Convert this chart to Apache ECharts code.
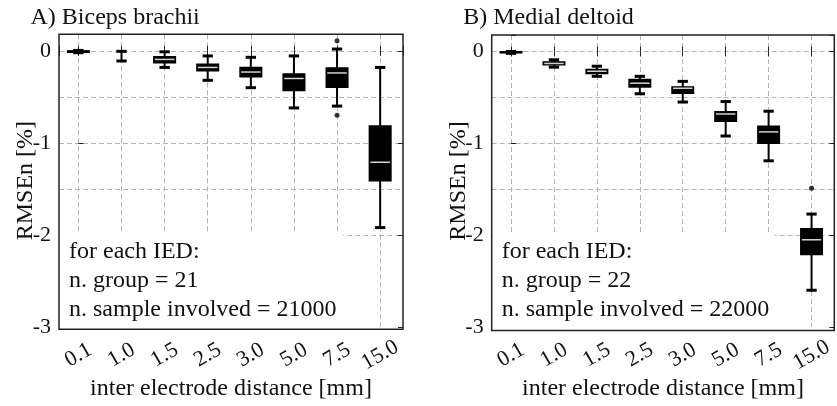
<!DOCTYPE html>
<html>
<head>
<meta charset="utf-8">
<script src="https://cdn.jsdelivr.net/npm/echarts@6/dist/echarts.min.js"></script>
<style>
html,body{margin:0;padding:0;background:#fff}
#c{width:837px;height:406px}
</style>
</head>
<body>
<div id="c"></div>
<script>
// IED categories (mm) on the x axis
const categories = ['0.1', '1.0', '1.5', '2.5', '3.0', '5.0', '7.5', '15.0'];
const panelTitles = ['A) Biceps brachii', 'B) Medial deltoid'];
const yAxisName = 'RMSEn [%]';
const xAxisName = 'inter electrode distance [mm]';

// box statistics per IED: [lower whisker, q1, median, q3, upper whisker]
const bicepsBoxes = [
  [-0.02, -0.015, -0.005, 0.0, 0.005],
  [-0.11, -0.06, -0.06, -0.06, -0.005],
  [-0.18, -0.13, -0.093, -0.063, -0.01],
  [-0.32, -0.215, -0.18, -0.145, -0.055],
  [-0.40, -0.28, -0.23, -0.18, -0.07],
  [-0.62, -0.43, -0.30, -0.25, -0.055],
  [-0.60, -0.395, -0.24, -0.185, 0.02],
  [-1.92, -1.41, -1.21, -0.815, -0.18]
];
const bicepsOutliers = [['7.5', 0.11], ['7.5', -0.70]];

const deltoidBoxes = [
  [-0.02, -0.014, -0.008, -0.002, 0.0],
  [-0.17, -0.145, -0.13, -0.113, -0.09],
  [-0.27, -0.24, -0.215, -0.195, -0.16],
  [-0.46, -0.385, -0.345, -0.305, -0.27],
  [-0.55, -0.455, -0.40, -0.385, -0.325],
  [-0.92, -0.76, -0.68, -0.655, -0.545],
  [-1.19, -1.0, -0.875, -0.815, -0.65],
  [-2.60, -2.21, -2.05, -1.93, -1.77]
];
const deltoidOutliers = [['15.0', -1.49]];

const groupCounts = [21, 22];
const sampleCounts = [21000, 22000];

const FONT = 'Liberation Serif';
const INK = '#111';
const DASH = '#b4b4b4';
const NONE = 'rgba(0,0,0,0)';

const grids = [
  {left: 59, top: 34.3, width: 344, height: 295},
  {left: 491.7, top: 35, width: 342.6, height: 295.5}
];

const X_MIN = -0.45, X_MAX = 7.53, Y_MIN = -3, Y_MAX = 0.18;

const TICK = {show: true, inside: true, length: 5, lineStyle: {color: '#222', width: 1}};

function xAxesFor(g) {
  const base = {
    gridIndex: g, type: 'value', min: X_MIN, max: X_MAX,
    splitNumber: 8, minInterval: 1, maxInterval: 1
  };
  return [
    Object.assign({}, base, {
      position: 'bottom',
      axisLine: {show: false},
      axisTick: TICK,
      splitLine: {show: true, showMinLine: false, showMaxLine: false,
        lineStyle: {color: DASH, width: 1, type: [5, 3]}},
      axisLabel: {
        rotate: 30, align: 'center', verticalAlign: 'middle', margin: 28,
        fontFamily: FONT, fontSize: 22, color: INK,
        formatter: v => (Number.isInteger(v) && categories[v] !== undefined) ? categories[v] : ''
      },
      name: xAxisName, nameLocation: 'middle', nameGap: 50, nameMoveOverlap: false,
      nameTextStyle: {fontFamily: FONT, fontSize: 24, color: INK}
    }),
    Object.assign({}, base, {
      position: 'top',
      axisLine: {show: false},
      axisTick: TICK,
      splitLine: {show: false},
      axisLabel: {show: false}
    })
  ];
}

function yAxesFor(g) {
  return [
    { // dashed grid every 0.5 (from -2.5 up to 0; the -2.5 row is left blank)
      gridIndex: g, type: 'value', min: Y_MIN, max: Y_MAX, interval: 0.5,
      axisLine: {show: false}, axisTick: {show: false}, axisLabel: {show: false},
      splitLine: {show: true, showMinLine: false, showMaxLine: false,
        lineStyle: {color: [NONE, DASH, DASH, DASH, DASH, DASH], width: 1, type: [5, 3]}}
    },
    { // labelled integer ticks
      gridIndex: g, type: 'value', min: Y_MIN, max: Y_MAX, interval: 1, position: 'left',
      axisLine: {show: false},
      axisTick: TICK,
      splitLine: {show: false},
      axisLabel: {
        fontFamily: FONT, fontSize: 22, color: INK, margin: 8,
        formatter: v => Number.isInteger(v) ? String(v) : ''
      },
      name: yAxisName, nameLocation: 'middle', nameGap: 21, nameRotate: 90, nameMoveOverlap: false,
      nameTextStyle: {fontFamily: FONT, fontSize: 24, color: INK}
    },
    { // right-hand ticks
      gridIndex: g, type: 'value', min: Y_MIN, max: Y_MAX, interval: 1, position: 'right',
      axisLine: {show: false},
      axisTick: TICK,
      splitLine: {show: false}, axisLabel: {show: false}
    }
  ];
}

// box-and-whisker glyph: filled box, light median, whiskers with short caps
function renderBox(params, api) {
  const x = api.value(0);
  const lo = api.coord([x, api.value(1)]);
  const q1 = api.coord([x, api.value(2)]);
  const md = api.coord([x, api.value(3)]);
  const q3 = api.coord([x, api.value(4)]);
  const hi = api.coord([x, api.value(5)]);
  const band = api.size([1, 0])[0];
  const bw = band * 0.5, cw = band * 0.24;
  const cx = lo[0];
  const children = [
    {type: 'line', shape: {x1: cx, y1: hi[1], x2: cx, y2: lo[1]}, style: {stroke: '#000', lineWidth: 2}},
    {type: 'line', shape: {x1: cx - cw / 2, y1: hi[1], x2: cx + cw / 2, y2: hi[1]}, style: {stroke: '#000', lineWidth: 3}},
    {type: 'line', shape: {x1: cx - cw / 2, y1: lo[1], x2: cx + cw / 2, y2: lo[1]}, style: {stroke: '#000', lineWidth: 3}}
  ];
  const h = q1[1] - q3[1];
  if (h > 0.01) {
    children.push({type: 'rect', shape: {x: cx - bw / 2, y: q3[1], width: bw, height: h},
      style: {fill: '#000', stroke: '#000', lineWidth: 1.5}});
  }
  if (h > 2.5) {
    children.push({type: 'line', shape: {x1: cx - bw / 2 + 1, y1: md[1], x2: cx + bw / 2 - 1, y2: md[1]},
      style: {stroke: '#d2d2d2', lineWidth: 1.5}});
  }
  return {type: 'group', children};
}

function boxSeries(g, boxes) {
  return {
    type: 'custom', xAxisIndex: g * 2, yAxisIndex: g * 3, z: 3,
    renderItem: renderBox,
    encode: {x: 0, y: [1, 2, 3, 4, 5]},
    data: boxes.map((b, i) => [i].concat(b))
  };
}

function outlierSeries(g, pts) {
  return {
    type: 'scatter', xAxisIndex: g * 2, yAxisIndex: g * 3, z: 4,
    symbol: 'circle', symbolSize: 5, itemStyle: {color: '#000'},
    data: pts.map(p => [categories.indexOf(p[0]), p[1]])
  };
}

const chart = echarts.init(document.getElementById('c'), null, {renderer: 'canvas'});

chart.setOption({
  backgroundColor: '#fff',
  animation: false,
  grid: grids.map(g => Object.assign({show: false}, g)),
  xAxis: xAxesFor(0).concat(xAxesFor(1)),
  yAxis: yAxesFor(0).concat(yAxesFor(1)),
  series: [
    boxSeries(0, bicepsBoxes), outlierSeries(0, bicepsOutliers),
    boxSeries(1, deltoidBoxes), outlierSeries(1, deltoidOutliers)
  ]
});

// panel titles, the per-panel annotation box (white, hiding the grid behind it) and the frame
const graphics = [];
[0, 1].forEach(g => {
  const gr = grids[g];
  const right = chart.convertToPixel({xAxisIndex: g * 2}, 6.14);
  const top = chart.convertToPixel({yAxisIndex: g * 3}, -1.985);
  const bottom = gr.top + gr.height;
  graphics.push({
    type: 'text', z: 10,
    style: {x: gr.left - 28.5, y: 6, text: panelTitles[g], font: '24px "' + FONT + '"', fill: INK, textVerticalAlign: 'top'}
  });
  graphics.push({
    type: 'rect', z: 1,
    shape: {x: gr.left + 1, y: top, width: right - gr.left - 1, height: bottom - top - 1},
    style: {fill: '#fff'}
  });
  const lines = ['for each IED:', 'n. group = ' + groupCounts[g], 'n. sample involved = ' + sampleCounts[g]];
  lines.forEach((t, i) => {
    graphics.push({
      type: 'text', z: 10,
      style: {x: gr.left + 10, y: 240 + i * 29, text: t, font: '24px "' + FONT + '"', fill: INK, textVerticalAlign: 'top'}
    });
  });
  graphics.push({
    type: 'rect', z: 20,
    shape: {x: gr.left, y: gr.top, width: gr.width, height: gr.height},
    style: {fill: null, stroke: '#222', lineWidth: 1.5}
  });
});
chart.setOption({graphic: graphics});
</script>
</body>
</html>
